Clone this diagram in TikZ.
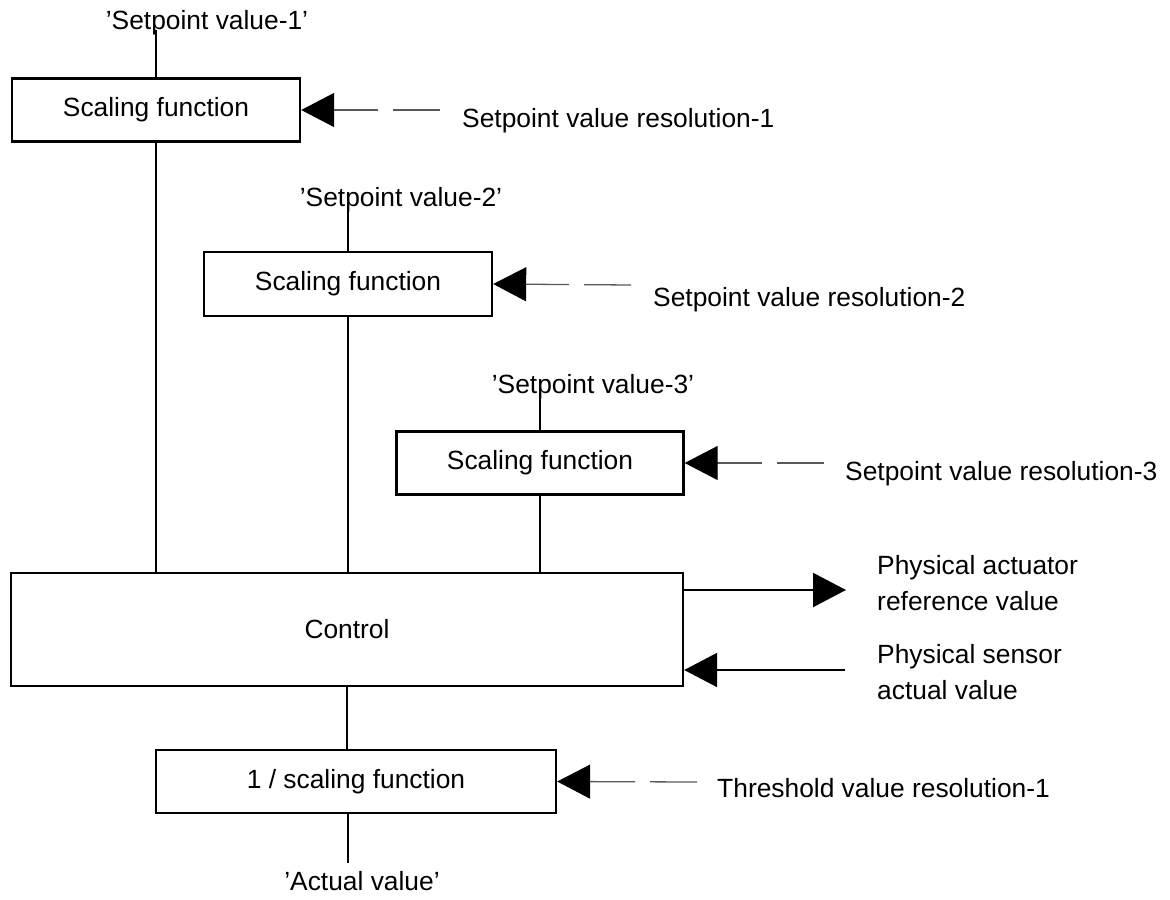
\documentclass[tikz,border=0pt]{standalone}
\usepackage{fontspec}
\setmainfont{Liberation Sans}
\usetikzlibrary{arrows.meta}

\tikzset{
    block/.style={draw=black, line width=2pt, fill=white, inner sep=0pt},
    lbl/.style={inner sep=0pt},
    wire/.style={line width=1.8pt},
    sig/.style={line width=1.8pt, -{Triangle[length=0.99cm, width=1.02cm]}},
    feed/.style={draw=black!65, line width=1.1pt,
        dash pattern=on 1.41cm off 0.45cm on 3cm,
        -{Triangle[length=0.99cm, width=1.02cm, color=black]}},
}

\begin{document}
\begin{tikzpicture}[x=0.03cm, y=-0.03cm, font=\fontsize{22.5}{30.5}\selectfont]
    \useasboundingbox (0,0) rectangle (1170,900);

    % scaling blocks
    \node[block, minimum width=8.64cm, minimum height=1.89cm] (scale1) at (156,110) {Scaling function};
    \node[block, minimum width=8.64cm, minimum height=1.92cm] (scale2) at (348,284) {Scaling function};
    \node[block, minimum width=8.61cm, minimum height=1.89cm] (scale3) at (540,463) {Scaling function};
    \node[block, minimum width=20.16cm, minimum height=3.39cm] (ctrl) at (347,629.5) {Control};
    \node[block, minimum width=12cm, minimum height=1.89cm] (invscale) at (356,781.5) {1 / scaling function};

    % setpoint labels
    \node[lbl, anchor=base] (sp1) at (207,30) {'Setpoint value-1'};
    \node[lbl, anchor=base] (sp2) at (401,206) {'Setpoint value-2'};
    \node[lbl, anchor=base] (sp3) at (593,393) {'Setpoint value-3'};
    \node[lbl, anchor=base] (actual) at (362,890) {'Actual value'};

    % resolution labels
    \node[lbl, anchor=base west] (res1) at (462,128) {Setpoint value resolution-1};
    \node[lbl, anchor=base west] (res2) at (653,306) {Setpoint value resolution-2};
    \node[lbl, anchor=base west] (res3) at (845,480) {Setpoint value resolution-3};
    \node[lbl, anchor=base west] (thres) at (717,797) {Threshold value resolution-1};
    \node[lbl, anchor=west, align=left] (act) at (877,583) {Physical actuator\\reference value};
    \node[lbl, anchor=west, align=left] (sens) at (877,672) {Physical sensor\\actual value};

    % vertical wires
    \draw[wire] (sp1.base -| scale1.north) -- (scale1.north);
    \draw[wire] (scale1.south) -- (ctrl.north -| scale1.south);
    \draw[wire] (sp2.base -| scale2.north) -- (scale2.north);
    \draw[wire] (scale2.south) -- (ctrl.north -| scale2.south);
    \draw[wire] (sp3.base -| scale3.north) -- (scale3.north);
    \draw[wire] (scale3.south) -- (ctrl.north -| scale3.south);
    \draw[wire] (ctrl.south) -- (invscale.north -| ctrl.south);
    \coordinate (actend) at (348,863);
    \draw[wire] (invscale.south -| actend) -- (actend);

    % resolution inputs
    \coordinate (r1) at (440,110);
    \coordinate (r2) at (631,285);
    \coordinate (r3) at (824,463);
    \coordinate (t1) at (697,782);
    \draw[feed] (r1) -- (scale1.east);
    \draw[feed] (r2) -- (scale2.east);
    \draw[feed] (r3) -- (scale3.east);
    \draw[feed] (t1) -- (invscale.east);

    % physical signals
    \coordinate (acttip) at (846,590);
    \coordinate (sensin) at (845,670);
    \draw[sig] (ctrl.east |- acttip) -- (acttip);
    \draw[sig] (sensin) -- (ctrl.east |- sensin);
\end{tikzpicture}
\end{document}
